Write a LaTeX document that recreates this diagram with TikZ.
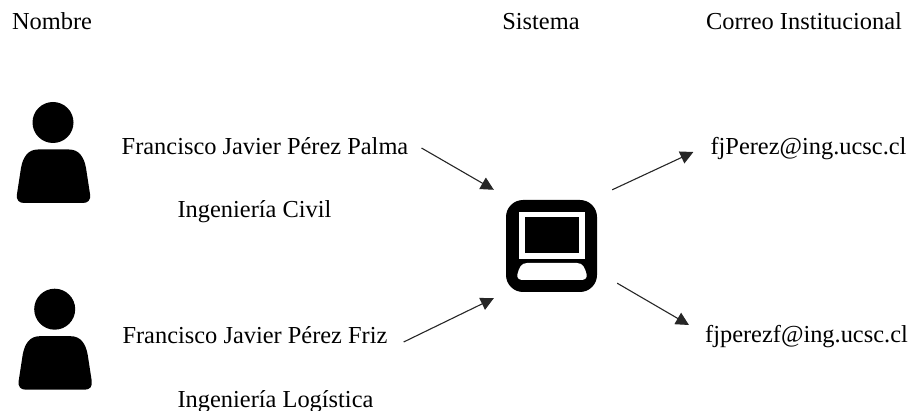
\documentclass[tikz,border=0pt]{standalone}
\usepackage{fontspec}
\usetikzlibrary{arrows.meta}
\setmainfont{Liberation Serif}
\begin{document}
\begin{tikzpicture}[x=1pt,y=-1pt,
  lbl/.style={font=\fontsize{24.4pt}{28pt}\selectfont,inner sep=0pt,text height=16pt,text depth=5pt,anchor=center},
  conn/.style={-{Triangle[length=13pt,width=13pt]},line width=1.1pt,black!85},
  person/.pic={
    \fill[black] (53,122.5) circle[radius=20.5];
    \fill[black] (38,149.5) -- (69,149.5) .. controls (79,149.5) and (84,157) .. (86,168)
      -- (90,194) .. controls (91,200) and (88,203) .. (83,203) -- (24,203)
      .. controls (19,203) and (16,200) .. (17,194) -- (21,168)
      .. controls (23,157) and (28,149.5) .. (38,149.5) -- cycle;
  }]
\useasboundingbox (0,0) rectangle (910,411);
\node[lbl] (nombre) at (52,24) {Nombre};
\node[lbl] (sistema) at (541,24.5) {Sistema};
\node[lbl] (correo) at (804,24.5) {Correo Institucional};
\pic (p1) at (0,0) {person};
\pic (p2) at (1.7,186.7) {person};
\node[lbl] (palma) at (265,149.5) {Francisco Javier Pérez Palma};
\node[lbl] (civil) at (254.5,212.5) {Ingeniería Civil};
\node[lbl] (friz) at (255,338) {Francisco Javier Pérez Friz};
\node[lbl] (logistica) at (275.5,401.5) {Ingeniería Logística};
\node[lbl] (mail1) at (808.5,149.5) {fjPerez@ing.ucsc.cl};
\node[lbl] (mail2) at (806.5,337.5) {fjperezf@ing.ucsc.cl};
% computer icon
\node[fill=black,rounded corners=17pt,minimum width=91pt,minimum height=92pt,inner sep=0pt] (pc) at (551.5,246) {};
\fill[white] (519,212) rectangle (585,259);
\fill[black] (525,217) rectangle (579,253);
\fill[white] (527,263) -- (577,263) .. controls (583,263) and (585,268) .. (586.5,274)
  .. controls (587.5,278) and (585,280) .. (581,280) -- (523,280)
  .. controls (519,280) and (516.5,278) .. (517.5,274) .. controls (519,268) and (521,263) .. (527,263) -- cycle;
% connectors
\draw[conn] ([shift={(13,-1.5)}]palma.east) -- ([shift={(-12,-10)}]pc.north west);
\draw[conn] ([shift={(16,4)}]friz.east) -- ([shift={(-12,6)}]pc.south west);
\draw[conn] ([shift={(15,-10)}]pc.north east) -- ([shift={(-17,2.5)}]mail1.west);
\draw[conn] ([shift={(20,-9)}]pc.south east) -- ([shift={(-16,-12.5)}]mail2.west);
\end{tikzpicture}
\end{document}
